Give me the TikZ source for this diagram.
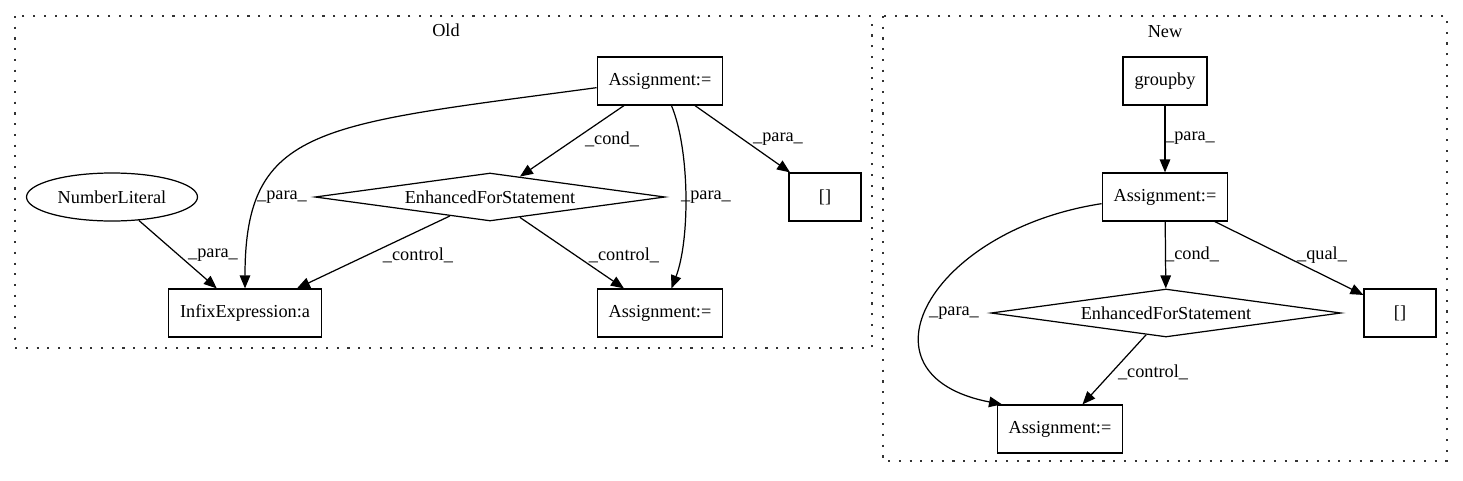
\documentclass[tikz,border=0pt]{standalone}
\usepackage{fontspec}
\setmainfont{Liberation Serif}
\usetikzlibrary{arrows.meta,shapes.geometric}
\newcommand{\gvfont}{\fontsize{10.4}{12}\selectfont}
\tikzset{
  box/.style={draw=black,fill=white,rectangle,line width=0.7pt,font=\gvfont,inner xsep=0.23cm,minimum width=1.44cm,minimum height=0.96cm},
  diam/.style={draw=black,fill=white,diamond,aspect=7.3,line width=0.7pt,font=\gvfont,inner sep=0pt,minimum width=7cm,minimum height=0.96cm},
  ell/.style={draw=black,fill=white,ellipse,line width=0.7pt,font=\gvfont,inner sep=0pt,minimum width=3.42cm,minimum height=0.96cm},
  clus/.style={draw=black!80,line width=0.8pt,dash pattern=on 1.2pt off 4.9pt},
  arr/.style={-{Triangle[length=7.4pt,width=6pt]},line width=0.7pt,draw=black},
  lbl/.style={font=\gvfont,inner sep=0pt},
}

\begin{document}
\begin{tikzpicture}[x=0.02cm,y=-0.02cm]
\useasboundingbox (0,0) rectangle (1463,480);
% clusters
\draw[clus] (15,16) rectangle (872,348);
\node[lbl] (old) at (446,30) {Old};
\draw[clus] (883,16) rectangle (1447,461);
\node[lbl] (new) at (1165,32) {New};
% old
\node[box] (oa1) at (660,81) {Assignment:=};
\node[ell] (onum) at (112,197) {NumberLiteral};
\node[diam] (ofor) at (490,197) {EnhancedForStatement};
\node[box] (obr) at (825,197) {[]};
\node[box] (oinf) at (245,313) {InfixExpression:a};
\node[box] (oa2) at (660,313) {Assignment:=};
\draw[arr] (oa1.186) .. controls (320,125) and (245,125) .. (oinf.north) node[lbl] at (282,197) {\_para\_};
\draw[arr] (oa1) -- (ofor) node[lbl] at (612,139) {\_cond\_};
\draw[arr] (oa1.-65) .. controls (690,150) and (690,240) .. (oa2.65) node[lbl] at (706,197) {\_para\_};
\draw[arr] (oa1) -- (obr) node[lbl] at (778,139) {\_para\_};
\draw[arr] (onum) -- (oinf) node[lbl] at (213,255) {\_para\_};
\draw[arr] (ofor) -- (oinf) node[lbl] at (418,255) {\_control\_};
\draw[arr] (ofor) -- (oa2) node[lbl] at (624,255) {\_control\_};
% new
\node[box] (ngb) at (1165,81) {groupby};
\node[box] (na1) at (1165,197) {Assignment:=};
\node[diam] (nfor) at (1166,313) {EnhancedForStatement};
\node[box] (nbr) at (1400,313) {[]};
\node[box] (na2) at (1060,429) {Assignment:=};
\draw[arr] (ngb) -- (na1) node[lbl] at (1190,138) {\_para\_};
\draw[arr] (na1) -- (nfor) node[lbl] at (1192,254) {\_cond\_};
\draw[arr] (na1) -- (nbr) node[lbl] at (1322,255) {\_qual\_};
\draw[arr] (na1.186) .. controls (930,230) and (850,375) .. (na2.157) node[lbl] at (954,313) {\_para\_};
\draw[arr] (nfor) -- (na2) node[lbl] at (1153,372) {\_control\_};
\end{tikzpicture}
\end{document}
